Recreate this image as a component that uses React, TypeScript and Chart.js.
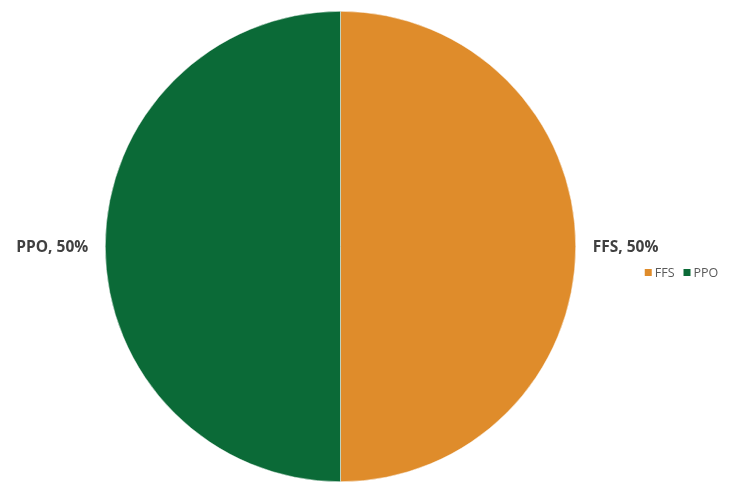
import React, { useEffect, useRef } from "react";
import { Chart, registerables } from "chart.js";

Chart.register(...registerables);

const categories = ["FFS", "PPO"];
const values = [50, 50];
const colors = ["#DF8C2B", "#0B6A37"];

const labelPlugin = {
  id: "sideLabels",
  afterDraw(chart: any) {
    const ctx = chart.ctx;
    const meta = chart.getDatasetMeta(0);
    const total = values.reduce((a, b) => a + b, 0);
    ctx.save();
    ctx.font = "bold 15.5px 'Open Sans', sans-serif";
    ctx.fillStyle = "#404040";
    ctx.textBaseline = "middle";
    meta.data.forEach((arc: any, i: number) => {
      const mid = (arc.startAngle + arc.endAngle) / 2;
      const r = arc.outerRadius + 17;
      const x = arc.x + Math.cos(mid) * r;
      const y = arc.y + Math.sin(mid) * r + 1;
      ctx.textAlign = Math.cos(mid) >= 0 ? "left" : "right";
      const pct = Math.round((values[i] / total) * 100);
      ctx.fillText(`${categories[i]}, ${pct}%`, x, y);
    });
    // legend
    const first = meta.data[0];
    let lx = first.x + first.outerRadius + 69;
    const ly = first.y + 26;
    ctx.font = "12.5px 'Open Sans', sans-serif";
    ctx.textAlign = "left";
    categories.forEach((c, i) => {
      ctx.fillStyle = colors[i];
      ctx.fillRect(lx, ly - 3.5, 7, 7);
      lx += 10;
      ctx.fillStyle = "#595959";
      ctx.fillText(c, lx, ly + 0.5);
      lx += ctx.measureText(c).width + 9;
    });
    ctx.restore();
  },
};

export default function App() {
  const ref = useRef<HTMLCanvasElement>(null);
  useEffect(() => {
    if (!ref.current) return;
    const chart = new Chart(ref.current, {
      type: "pie",
      data: {
        labels: categories,
        datasets: [
          {
            data: values,
            backgroundColor: colors,
            borderColor: "#ffffff",
            borderWidth: 0.5,
          },
        ],
      },
      options: {
        animation: false,
        responsive: true,
        maintainAspectRatio: false,
        layout: { padding: { left: 105, right: 167, top: 11, bottom: 1 } },
        plugins: { legend: { display: false }, tooltip: { enabled: false } },
      },
      plugins: [labelPlugin],
    });
    return () => chart.destroy();
  }, []);
  return (
    <div style={{ position: "fixed", left: 0, top: 0, width: 743, height: 483, background: "#fff" }}>
      <canvas ref={ref} />
    </div>
  );
}
